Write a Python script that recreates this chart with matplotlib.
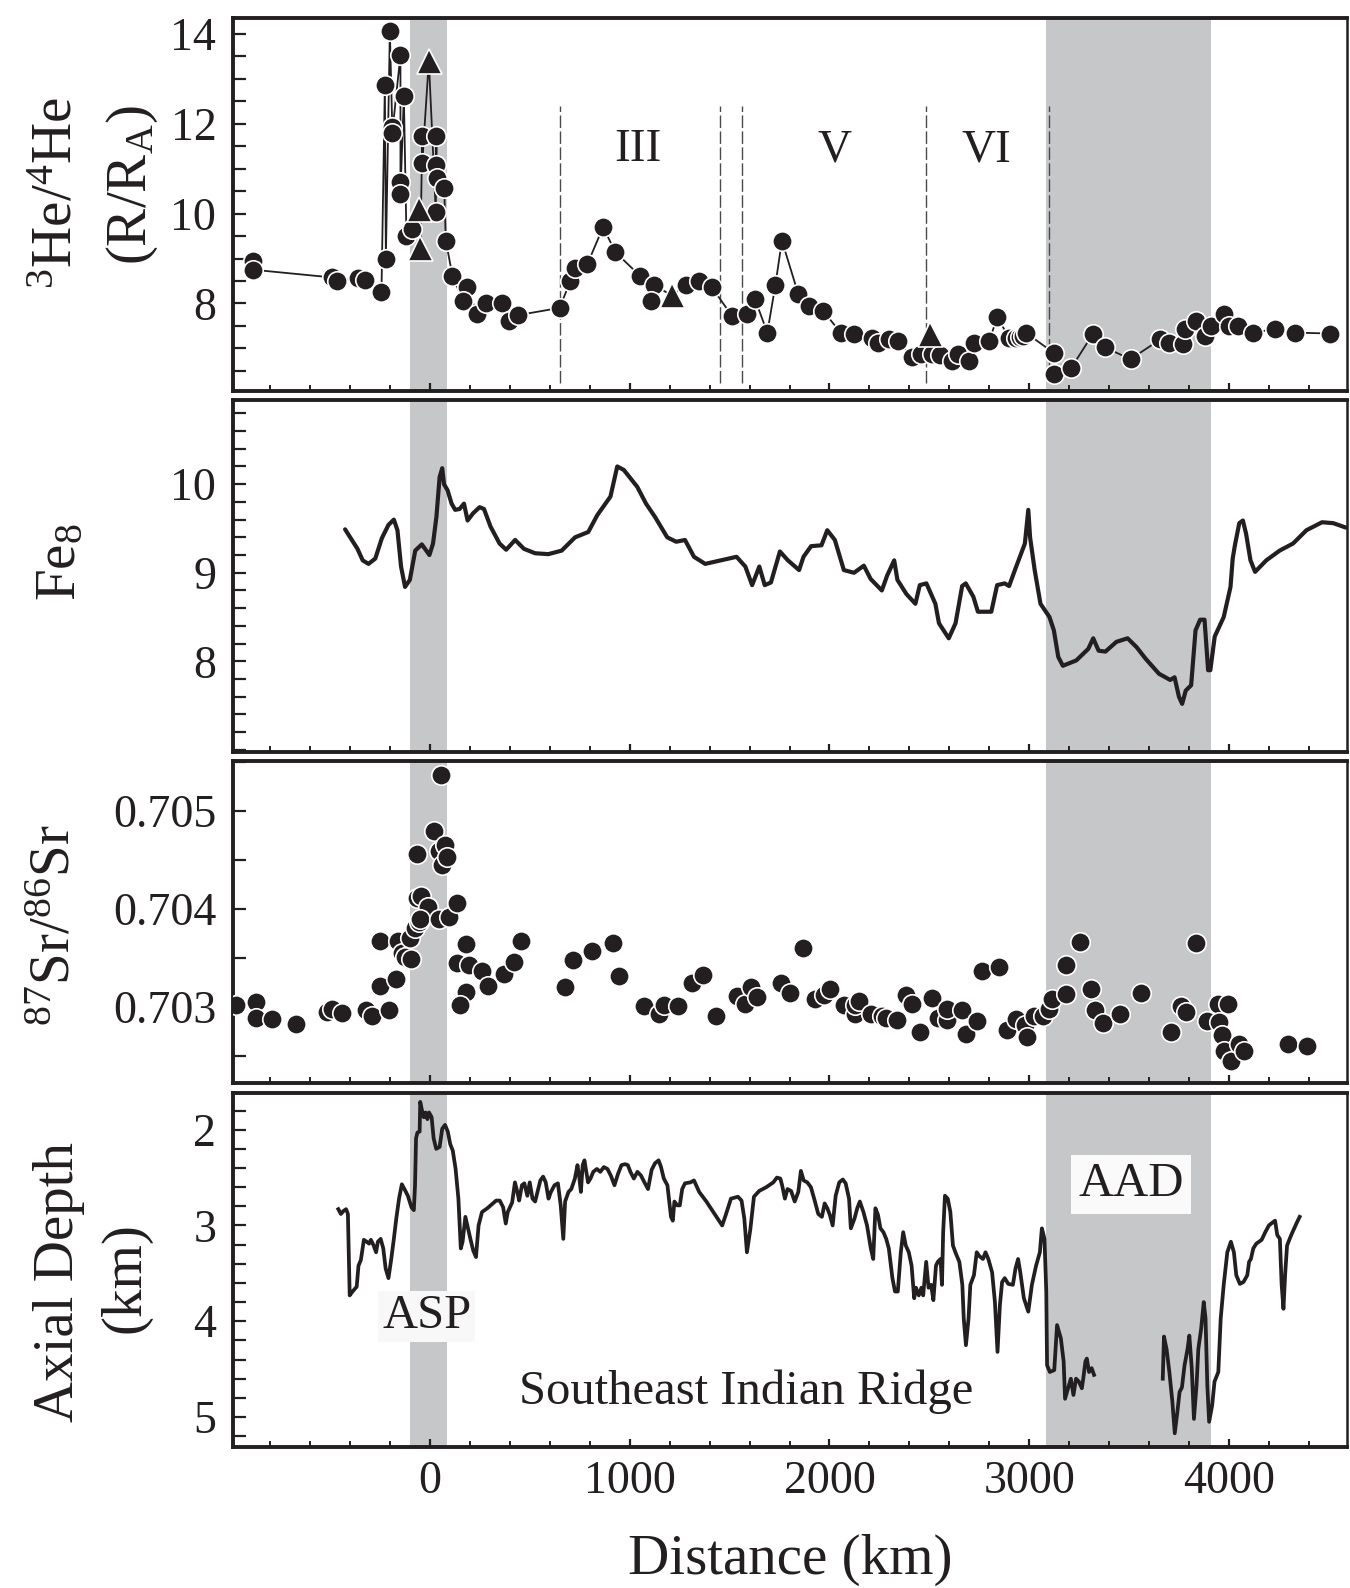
import numpy as np
import matplotlib
matplotlib.use("Agg")
import matplotlib.pyplot as plt
from matplotlib.ticker import FixedLocator, MultipleLocator, FormatStrFormatter

plt.rcParams['font.family'] = ['Liberation Serif', 'DejaVu Serif']
plt.rcParams['mathtext.fontset'] = 'custom'
plt.rcParams['mathtext.rm'] = 'Liberation Serif'
plt.rcParams['mathtext.it'] = 'Liberation Serif:italic'
plt.rcParams['mathtext.bf'] = 'Liberation Serif:bold'

INK = '#231f20'
BAND = '#c6c7c9'

# ---------------- data ----------------
# Panel 1: 3He/4He (circles)
he_x = [-883, -883, -492, -463, -358, -325, -242, -220, -225, -200, -188, -188,
        -147, -130, -147, -147, -117, -87, -38, -38, 33, 33, 37, 72, 30, 80,
        113, 187, 167, 237, 283, 363, 397, 442, 649, 704, 727, 789, 867, 929,
        1053, 1122, 1109, 1282, 1345, 1411, 1511, 1589, 1627, 1689, 1729, 1762,
        1844, 1900, 1967, 2056, 2122, 2211, 2244, 2300, 2344, 2411, 2456, 2511,
        2551, 2611, 2644, 2700, 2722, 2800, 2840, 2900, 2933, 2955, 2970, 2982,
        3122, 3122, 3211, 3318, 3378, 3507, 3656, 3700, 3767, 3778, 3833, 3878,
        3911, 3973, 4000, 4044, 4122, 4229, 4329, 4507]
he_y = [8.95, 8.75, 8.58, 8.50, 8.57, 8.53, 8.25, 9.00, 12.87, 14.06, 11.93, 11.80,
        13.53, 12.62, 10.70, 10.43, 9.51, 9.65, 11.72, 11.13, 11.72, 11.09, 10.80, 10.56, 10.03, 9.40,
        8.62, 8.36, 8.05, 7.76, 8.00, 8.00, 7.61, 7.74, 7.90, 8.50, 8.80, 8.88, 9.70, 9.14,
        8.61, 8.40, 8.06, 8.40, 8.50, 8.36, 7.73, 7.76, 8.10, 7.35, 8.40, 9.40,
        8.21, 7.95, 7.84, 7.35, 7.33, 7.23, 7.13, 7.20, 7.17, 6.81, 6.87, 6.87,
        6.85, 6.72, 6.87, 6.72, 7.13, 7.17, 7.70, 7.22, 7.22, 7.25, 7.28, 7.35,
        6.90, 6.42, 6.57, 7.32, 7.02, 6.76, 7.20, 7.13, 7.09, 7.43, 7.61, 7.28,
        7.50, 7.76, 7.50, 7.50, 7.35, 7.43, 7.35, 7.33]
# Panel 1: triangles
he_tri_x = [-55, -47, -5, 1212, 2505]
he_tri_y = [10.10, 9.24, 13.40, 8.18, 7.32]

# segment boundaries (km) and labels
seg_lines = [652, 1453, 1560, 2485, 3098]
seg_labels = ['III', 'V', 'VI']
seg_label_x = [1040, 2027, 2785]

# Panel 2: Fe8
fe_x = [-424, -362, -336, -307, -273, -240, -207, -180, -162, -144, -124, -100, -73, -40,
        -18, -2, 16, 33, 49, 62, 71, 89, 109, 127, 149, 171, 189, 216, 249, 271, 304,
        349, 382, 427, 471, 527, 593, 660, 727, 793, 838, 904, 938, 971, 1038, 1082,
        1127, 1188, 1233, 1277, 1322, 1378, 1456, 1535, 1579, 1613, 1649, 1676, 1707,
        1752, 1792, 1848, 1870, 1908, 1960, 1989, 2027, 2072, 2123, 2172, 2206, 2262,
        2289, 2324, 2340, 2385, 2430, 2452, 2485, 2530, 2548, 2597, 2631, 2664, 2682,
        2720, 2743, 2810, 2839, 2877, 2899, 2928, 2978, 2995, 3004, 3027, 3056, 3101,
        3123, 3145, 3168, 3235, 3295, 3320, 3347, 3381, 3436, 3492, 3537, 3582, 3649,
        3705, 3727, 3749, 3765, 3783, 3810, 3832, 3855, 3877, 3895, 3906, 3928, 3973,
        4007, 4018, 4029, 4051, 4069, 4085, 4107, 4130, 4186, 4253, 4320, 4387, 4465,
        4521, 4584]
fe_y = [9.49, 9.27, 9.14, 9.10, 9.16, 9.39, 9.54, 9.60, 9.48, 9.07, 8.84, 8.92, 9.25, 9.32,
        9.25, 9.20, 9.33, 9.63, 10.08, 10.18, 10.00, 9.93, 9.78, 9.71, 9.72, 9.78, 9.59,
        9.67, 9.74, 9.72, 9.52, 9.33, 9.26, 9.37, 9.27, 9.22, 9.21, 9.25, 9.40, 9.46,
        9.65, 9.86, 10.20, 10.16, 9.97, 9.78, 9.63, 9.40, 9.35, 9.37, 9.18, 9.10, 9.14,
        9.18, 9.07, 8.86, 9.07, 8.86, 8.89, 9.24, 9.14, 9.03, 9.18, 9.30, 9.31, 9.48,
        9.37, 9.03, 9.00, 9.08, 8.93, 8.80, 8.97, 9.14, 8.92, 8.76, 8.65, 8.86, 8.88,
        8.65, 8.43, 8.26, 8.43, 8.85, 8.88, 8.73, 8.56, 8.56, 8.86, 8.88, 8.85, 9.03,
        9.33, 9.71, 9.40, 9.03, 8.65, 8.50, 8.35, 8.05, 7.95, 8.01, 8.14, 8.26, 8.12,
        8.11, 8.22, 8.26, 8.16, 8.03, 7.86, 7.79, 7.82, 7.60, 7.52, 7.67, 7.73, 8.35,
        8.47, 8.47, 7.90, 7.90, 8.28, 8.50, 8.84, 9.16, 9.31, 9.56, 9.59, 9.44, 9.14,
        9.01, 9.14, 9.25, 9.33, 9.48, 9.57, 9.56, 9.51]

# Panel 3: 87Sr/86Sr
sr_x = [-968, -868, -872, -788, -668, -513, -488, -438, -317, -288, -247, -250, -205,
        -168, -158, -138, -122, -92, -97, -63, -72, -55, -63, -42, -10, -47, 20, 48,
        62, 75, 87, 57, 48, 95, 138, 137, 183, 198, 262, 292, 183, 153, 372, 423, 458,
        678, 716, 811, 916, 949, 1071, 1145, 1171, 1242, 1311, 1367, 1430, 1535, 1579,
        1609, 1635, 1758, 1803, 1870, 1926, 1971, 2004, 2072, 2128, 2128, 2150, 2210,
        2262, 2284, 2336, 2385, 2414, 2452, 2512, 2541, 2586, 2586, 2664, 2682, 2736,
        2761, 2850, 2888, 2933, 2978, 2989, 3022, 3067, 3101, 3116, 3183, 3183, 3253,
        3309, 3331, 3369, 3454, 3559, 3711, 3760, 3783, 3832, 3890, 3944, 3995, 3950,
        3962, 3973, 4007, 4051, 4074, 4293, 4391]
sr_y = [0.70302, 0.70305, 0.70288, 0.70287, 0.70282, 0.70295, 0.70298, 0.70294, 0.70297,
        0.70290, 0.70321, 0.70367, 0.70297, 0.70328, 0.70367, 0.70355, 0.70351, 0.70349,
        0.70370, 0.70456, 0.70380, 0.70387, 0.70411, 0.70413, 0.70402, 0.70390, 0.70480,
        0.70459, 0.70445, 0.70465, 0.70453, 0.70537, 0.70390, 0.70392, 0.70406, 0.70345,
        0.70364, 0.70343, 0.70336, 0.70321, 0.70315, 0.70302, 0.70333, 0.70346, 0.70367,
        0.70320, 0.70348, 0.70357, 0.70365, 0.70331, 0.70301, 0.70293, 0.70302, 0.70301,
        0.70324, 0.70332, 0.70290, 0.70311, 0.70303, 0.70320, 0.70310, 0.70324, 0.70314,
        0.70360, 0.70308, 0.70312, 0.70318, 0.70302, 0.70293, 0.70302, 0.70306, 0.70293,
        0.70290, 0.70288, 0.70286, 0.70312, 0.70303, 0.70274, 0.70309, 0.70288, 0.70286,
        0.70298, 0.70297, 0.70272, 0.70285, 0.70337, 0.70341, 0.70276, 0.70287, 0.70281,
        0.70269, 0.70290, 0.70290, 0.70298, 0.70308, 0.70313, 0.70343, 0.70366, 0.70318,
        0.70297, 0.70283, 0.70293, 0.70314, 0.70274, 0.70301, 0.70295, 0.70365, 0.70285,
        0.70303, 0.70303, 0.70284, 0.70271, 0.70255, 0.70244, 0.70262, 0.70255, 0.70262,
        0.70260]

# Panel 4: axial depth, segment A (to the AAD gap) and segment B (after the gap)
depth_a_x = [-458, -445, -433, -419, -410, -401, -387, -366, -357, -345, -330, -316, -304,
             -295, -281, -269, -260, -246, -233, -221, -207, -193, -180, -168, -154, -140,
             -127, -110, -92, -80, -74, -69, -62, -51, -48, -37, -30, -21, -12, -4, 9, 19,
             32, 49, 62, 76, 90, 102, 115, 129, 143, 155, 164, 178, 191, 203, 217, 231,
             244, 261, 288, 332, 350, 367, 380, 390, 412, 426, 438, 447, 461, 473, 488,
             500, 514, 527, 539, 553, 567, 580, 594, 606, 624, 641, 655, 668, 677, 694,
             708, 726, 739, 747, 756, 765, 774, 783, 792, 804, 818, 836, 853, 871, 889,
             906, 924, 942, 959, 977, 991, 1004, 1021, 1039, 1057, 1074, 1092, 1110, 1127,
             1145, 1157, 1171, 1189, 1207, 1216, 1224, 1238, 1251, 1263, 1277, 1304, 1322,
             1348, 1384, 1428, 1463, 1481, 1507, 1542, 1560, 1574, 1587, 1604, 1622, 1648,
             1684, 1719, 1737, 1754, 1763, 1777, 1790, 1808, 1826, 1844, 1857, 1871, 1889,
             1907, 1926, 1944, 1962, 1976, 1989, 2002, 2016, 2031, 2049, 2067, 2081, 2098,
             2107, 2125, 2139, 2152, 2170, 2188, 2207, 2219, 2230, 2243, 2255, 2270, 2284,
             2297, 2315, 2328, 2342, 2357, 2369, 2382, 2397, 2411, 2424, 2433, 2447, 2460,
             2469, 2484, 2496, 2509, 2520, 2533, 2542, 2556, 2563, 2569, 2578, 2592, 2605,
             2618, 2632, 2650, 2665, 2672, 2683, 2696, 2705, 2723, 2737, 2750, 2768, 2781,
             2795, 2814, 2828, 2841, 2853, 2864, 2877, 2895, 2918, 2931, 2944, 2955, 2973,
             2995, 3013, 3034, 3053, 3063, 3076, 3085, 3089, 3103, 3125, 3139, 3158, 3172,
             3179, 3194, 3208, 3221, 3234, 3248, 3263, 3270, 3281, 3288, 3299, 3312, 3324]
depth_a_y = [2.83, 2.88, 2.85, 2.83, 2.88, 3.73, 3.69, 3.64, 3.42, 3.36, 3.15, 3.17, 3.19,
             3.15, 3.21, 3.28, 3.17, 3.14, 3.24, 3.45, 3.55, 3.35, 3.14, 2.93, 2.72, 2.57,
             2.62, 2.69, 2.81, 2.84, 2.58, 2.09, 2.03, 2.02, 1.71, 1.82, 1.87, 1.82, 1.89,
             1.82, 1.87, 2.09, 2.20, 2.18, 1.99, 1.95, 2.02, 2.15, 2.22, 2.41, 2.72, 3.24,
             3.17, 2.91, 3.03, 3.14, 3.26, 3.33, 3.00, 2.86, 2.82, 2.74, 2.74, 2.81, 2.98,
             2.86, 2.76, 2.55, 2.65, 2.74, 2.58, 2.56, 2.69, 2.55, 2.72, 2.75, 2.65, 2.53,
             2.49, 2.55, 2.72, 2.65, 2.58, 2.56, 2.79, 3.14, 2.75, 2.65, 2.62, 2.51, 2.37,
             2.48, 2.65, 2.37, 2.32, 2.44, 2.55, 2.51, 2.44, 2.41, 2.44, 2.39, 2.41, 2.48,
             2.58, 2.46, 2.37, 2.36, 2.37, 2.44, 2.51, 2.44, 2.48, 2.55, 2.62, 2.42, 2.35,
             2.32, 2.39, 2.51, 2.58, 2.91, 2.95, 2.75, 2.79, 2.79, 2.62, 2.56, 2.55, 2.53,
             2.65, 2.75, 2.89, 3.00, 2.89, 2.72, 2.70, 2.74, 2.93, 3.28, 3.04, 2.70, 2.64,
             2.60, 2.55, 2.50, 2.51, 2.58, 2.72, 2.62, 2.64, 2.75, 2.65, 2.43, 2.53, 2.55,
             2.60, 2.74, 2.88, 2.91, 2.77, 2.82, 2.89, 3.00, 2.69, 2.55, 2.52, 2.56, 2.72,
             3.03, 2.93, 2.82, 2.75, 2.86, 3.00, 3.24, 3.35, 2.82, 2.89, 3.03, 3.07, 3.14,
             3.24, 3.55, 3.69, 3.69, 3.28, 3.07, 3.21, 3.28, 3.42, 3.76, 3.65, 3.73, 3.65,
             3.73, 3.38, 3.65, 3.62, 3.78, 3.42, 3.38, 3.35, 3.62, 3.07, 2.69, 2.72, 2.86,
             3.21, 3.29, 3.38, 3.62, 3.97, 4.25, 3.97, 3.62, 3.52, 3.28, 3.32, 3.35, 3.28,
             3.35, 3.49, 3.80, 4.32, 3.83, 3.59, 3.55, 3.61, 3.62, 3.45, 3.35, 3.49, 3.76,
             3.90, 3.62, 3.42, 3.28, 3.03, 3.14, 3.69, 4.46, 4.53, 4.51, 4.04, 4.18, 4.42,
             4.81, 4.70, 4.60, 4.77, 4.60, 4.63, 4.70, 4.60, 4.42, 4.39, 4.53, 4.49, 4.56]
depth_b_x = [3668, 3674, 3687, 3701, 3716, 3728, 3741, 3752, 3764, 3777, 3792, 3801, 3813,
             3824, 3837, 3846, 3860, 3873, 3882, 3891, 3900, 3915, 3927, 3946, 3958, 3973,
             3991, 4009, 4024, 4036, 4054, 4072, 4091, 4100, 4109, 4121, 4136, 4163, 4181,
             4199, 4217, 4230, 4241, 4254, 4263, 4272, 4281, 4290, 4303, 4313, 4326, 4339,
             4353]
depth_b_y = [4.60, 4.16, 4.29, 4.53, 4.84, 5.17, 4.95, 4.74, 4.69, 4.46, 4.29, 4.15, 4.49,
             5.02, 4.67, 4.29, 4.08, 3.80, 3.97, 4.67, 5.05, 4.88, 4.63, 4.53, 3.97, 3.62,
             3.28, 3.17, 3.28, 3.52, 3.61, 3.59, 3.52, 3.38, 3.35, 3.24, 3.19, 3.15, 3.07,
             3.00, 2.97, 2.95, 3.10, 3.14, 3.62, 3.87, 3.49, 3.21, 3.14, 3.09, 3.03, 2.97,
             2.91]

asp_band = (-97, 88)
aad_band = (3082, 3908)
x_major = [0, 1000, 2000, 3000, 4000]

# ---------------- layout ----------------
W, H = 1350, 1588
fig = plt.figure(figsize=(W / 100, H / 100), dpi=100)

left_px, right_px = 233, 1347
panels_px = [(18.3, 391.0), (400.0, 751.7), (760.7, 1083.0), (1093.3, 1446.7)]
XLIM = (-985, 4590)

axes = []
for top, bot in panels_px:
    ax = fig.add_axes([left_px / W, 1 - bot / H, (right_px - left_px) / W, (bot - top) / H])
    ax.set_xlim(*XLIM)
    for side in ['left', 'bottom', 'top']:
        ax.spines[side].set_linewidth(2.8)
        ax.spines[side].set_color(INK)
    ax.spines['right'].set_linewidth(1.8)
    ax.spines['right'].set_color(INK)
    ax.xaxis.set_major_locator(FixedLocator(x_major))
    ax.xaxis.set_minor_locator(MultipleLocator(200))
    ax.tick_params(axis='x', which='major', direction='in', length=6, width=1.6,
                   colors=INK, top=False, labelsize=33, pad=10)
    ax.tick_params(axis='x', which='minor', direction='in', length=4, width=1.4,
                   colors=INK, top=False)
    ax.tick_params(axis='y', which='both', direction='in', length=9, width=1.6,
                   colors=INK, right=False, labelsize=33, pad=12)
    ax.axvspan(*asp_band, color=BAND, lw=0, zorder=0)
    ax.axvspan(*aad_band, color=BAND, lw=0, zorder=0)
    axes.append(ax)

for ax in axes[:-1]:
    ax.tick_params(axis='x', labelbottom=False)

# ---- panel 1
ax1 = axes[0]
ax1.set_ylim(6.05, 14.35)
ax1.yaxis.set_major_locator(FixedLocator([8, 10, 12, 14]))
ax1.yaxis.set_minor_locator(MultipleLocator(0.5))
allx = np.array(he_x + he_tri_x, dtype=float)
ally = np.array(he_y + he_tri_y, dtype=float)
order = np.argsort(allx, kind='stable')
ax1.plot(allx[order], ally[order], color=INK, lw=1.3, zorder=2)
ax1.plot(he_x, he_y, 'o', ms=14, mfc=INK, mec='white', mew=1.2, zorder=3)
ax1.plot(he_tri_x, he_tri_y, '^', ms=18, mfc=INK, mec='white', mew=1.2, zorder=4)
for xv in seg_lines:
    ax1.plot([xv, xv], [6.23, 12.4], color='#4a4a4a', lw=1.0, dashes=(9, 2.5), zorder=1)
for lab, xv in zip(seg_labels, seg_label_x):
    ax1.text(xv, 11.42, lab, ha='center', va='center', fontsize=34, color=INK)

# ---- panel 2
ax2 = axes[1]
ax2.set_ylim(6.98, 10.95)
ax2.yaxis.set_major_locator(FixedLocator([8, 9, 10]))
ax2.yaxis.set_minor_locator(MultipleLocator(0.2))
ax2.plot(fe_x, fe_y, color=INK, lw=3.0, solid_joinstyle='round', solid_capstyle='round',
         zorder=2)

# ---- panel 3
ax3 = axes[2]
ax3.set_ylim(0.70222, 0.705515)
ax3.yaxis.set_major_locator(FixedLocator([0.703, 0.704, 0.705]))
ax3.yaxis.set_minor_locator(MultipleLocator(0.0005))
ax3.yaxis.set_major_formatter(FormatStrFormatter('%.3f'))
ax3.plot(sr_x, sr_y, 'o', ms=14, mfc=INK, mec='white', mew=1.2, zorder=3)

# ---- panel 4
ax4 = axes[3]
ax4.set_ylim(5.31, 1.62)
ax4.yaxis.set_major_locator(FixedLocator([2, 3, 4, 5]))
ax4.yaxis.set_minor_locator(MultipleLocator(0.2))
ax4.plot(depth_a_x, depth_a_y, color=INK, lw=2.7, solid_joinstyle='round', zorder=2)
ax4.plot(depth_b_x, depth_b_y, color=INK, lw=2.7, solid_joinstyle='round', zorder=2)
ax4.text(-15, 3.95, 'ASP', ha='center', va='center', fontsize=35, color=INK, zorder=5,
         bbox=dict(boxstyle='square,pad=0.08', fc='#f8f8f8', ec='none'))
ax4.text(3510, 2.57, 'AAD', ha='center', va='center', fontsize=35, color=INK, zorder=5,
         bbox=dict(boxstyle='square,pad=0.15', fc='#fafafa', ec='none'))
ax4.text(1582, 4.74, 'Southeast Indian Ridge', ha='center', va='center', fontsize=35,
         color=INK, zorder=5)

# ---------------- labels ----------------
def ftext(xp, yp, s, **kw):
    fig.text(xp / W, 1 - yp / H, s, ha='center', va='center', color=INK, **kw)

ftext(58, 193, r'$\mathrm{^{3}He/^{4}He}$', fontsize=41, rotation=90)
ftext(132, 185, r'$\mathrm{(R/R_{A})}$', fontsize=41, rotation=90)
ftext(61, 562, r'$\mathrm{Fe_{8}}$', fontsize=41, rotation=90)
ftext(55, 925, r'$\mathrm{^{87}Sr/^{86}Sr}$', fontsize=41, rotation=90)
ftext(59, 1282, 'Axial Depth', fontsize=41, rotation=90)
ftext(125, 1278, '(km)', fontsize=41, rotation=90)
ftext(790, 1560, 'Distance (km)', fontsize=41)

fig.savefig('out.png', dpi=100, facecolor='white')
